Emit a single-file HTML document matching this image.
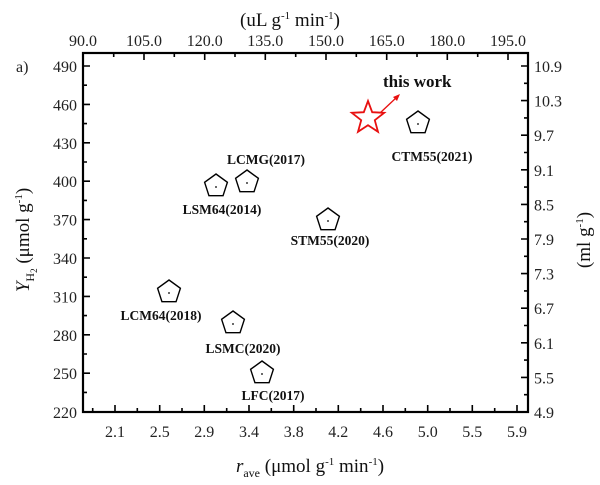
<!DOCTYPE html>
<html><head><meta charset="utf-8"><style>
html,body{margin:0;padding:0;background:#fff;}
svg{display:block;font-family:"Liberation Serif",serif;}
.t{font-size:16px;fill:#222;}
.lb{font-size:13.5px;font-weight:bold;fill:#111;}
</style></head><body>
<svg width="600" height="485" viewBox="0 0 600 485" xmlns="http://www.w3.org/2000/svg">
<defs>
<polygon id="pg" points="0,-12 11.4,-3.7 7.05,9.7 -7.05,9.7 -11.4,-3.7" fill="none" stroke="#000" stroke-width="1.4"/>
</defs>
<rect x="83" y="53" width="445" height="359" fill="none" stroke="#000" stroke-width="2.2"/>
<g stroke="#000" stroke-width="1.6">
<path d="M83,66h7M83,104.4h7M83,142.8h7M83,181.2h7M83,219.6h7M83,258h7M83,296.4h7M83,334.8h7M83,373.2h7"/>
<path d="M83,85.2h4M83,123.6h4M83,162h4M83,200.4h4M83,238.8h4M83,277.2h4M83,315.6h4M83,354h4M83,392.4h4"/>
<path d="M528,66h-7M528,100.6h-7M528,135.2h-7M528,169.8h-7M528,204.4h-7M528,239h-7M528,273.6h-7M528,308.2h-7M528,342.8h-7M528,377.4h-7"/>
<path d="M528,83.3h-4M528,117.9h-4M528,152.5h-4M528,187.1h-4M528,221.7h-4M528,256.3h-4M528,290.9h-4M528,325.5h-4M528,360.1h-4M528,394.7h-4"/>
<path d="M115,412v-7M159.7,412v-7M204.3,412v-7M249,412v-7M293.7,412v-7M338.3,412v-7M383,412v-7M427.7,412v-7M472.3,412v-7M517,412v-7"/>
<path d="M92.7,412v-4M137.3,412v-4M182,412v-4M226.7,412v-4M271.3,412v-4M316,412v-4M360.7,412v-4M405.3,412v-4M450,412v-4M494.7,412v-4"/>
<path d="M144,53v7M204.7,53v7M265.3,53v7M326,53v7M386.7,53v7M447.3,53v7M508,53v7"/>
<path d="M113.7,53v4M174.3,53v4M235,53v4M295.7,53v4M356.3,53v4M417,53v4M477.7,53v4"/>
</g>
<g class="t" text-anchor="end">
<text x="77" y="72">490</text><text x="77" y="110.4">460</text><text x="77" y="148.8">430</text><text x="77" y="187.2">400</text><text x="77" y="225.6">370</text><text x="77" y="264">340</text><text x="77" y="302.4">310</text><text x="77" y="340.8">280</text><text x="77" y="379.2">250</text><text x="77" y="418">220</text>
</g>
<text class="t" x="16" y="72">a)</text>
<g class="t">
<text x="534" y="72">10.9</text><text x="534" y="106.6">10.3</text><text x="534" y="141.2">9.7</text><text x="534" y="175.8">9.1</text><text x="534" y="210.4">8.5</text><text x="534" y="245">7.9</text><text x="534" y="279.6">7.3</text><text x="534" y="314.2">6.7</text><text x="534" y="348.8">6.1</text><text x="534" y="383.4">5.5</text><text x="534" y="418">4.9</text>
</g>
<g class="t" text-anchor="middle">
<text x="115" y="437">2.1</text><text x="159.7" y="437">2.5</text><text x="204.3" y="437">2.9</text><text x="249" y="437">3.4</text><text x="293.7" y="437">3.8</text><text x="338.3" y="437">4.2</text><text x="383" y="437">4.6</text><text x="427.7" y="437">5.0</text><text x="472.3" y="437">5.5</text><text x="517" y="437">5.9</text>
<text x="83" y="46">90.0</text><text x="144" y="46">105.0</text><text x="204.7" y="46">120.0</text><text x="265.3" y="46">135.0</text><text x="326" y="46">150.0</text><text x="386.7" y="46">165.0</text><text x="447.3" y="46">180.0</text><text x="508" y="46">195.0</text>
</g>
<text x="290" y="26" font-size="19" text-anchor="middle" fill="#111">(uL g<tspan font-size="11" dy="-7">-1</tspan><tspan dy="7"> min</tspan><tspan font-size="11" dy="-7">-1</tspan><tspan dy="7">)</tspan></text>
<text x="310" y="472" font-size="19" text-anchor="middle" fill="#111"><tspan font-style="italic">r</tspan><tspan font-size="12" dy="5">ave</tspan><tspan dy="-5"> (μmol g</tspan><tspan font-size="11" dy="-7">-1</tspan><tspan dy="7"> min</tspan><tspan font-size="11" dy="-7">-1</tspan><tspan dy="7">)</tspan></text>
<text transform="translate(29,240) rotate(-90)" font-size="19" text-anchor="middle" fill="#111"><tspan font-style="italic">Y</tspan><tspan font-size="12" dy="5">H</tspan><tspan font-size="9" dy="3">2</tspan><tspan dy="-8"> (μmol g</tspan><tspan font-size="11" dy="-7">-1</tspan><tspan dy="7">)</tspan></text>
<text transform="translate(590,240) rotate(-90)" font-size="19" text-anchor="middle" fill="#111">(ml g<tspan font-size="11" dy="-7">-1</tspan><tspan dy="7">)</tspan></text>
<g>
<use href="#pg" x="418" y="123"/><use href="#pg" x="247" y="182"/><use href="#pg" x="216" y="186"/><use href="#pg" x="328" y="220"/><use href="#pg" x="169" y="292"/><use href="#pg" x="233" y="323"/><use href="#pg" x="262" y="373"/>
</g>
<g fill="#000">
<circle cx="418" cy="124" r="0.9"/><circle cx="247" cy="183" r="0.9"/><circle cx="216" cy="187" r="0.9"/><circle cx="328" cy="221" r="0.9"/><circle cx="169" cy="293" r="0.9"/><circle cx="233" cy="324" r="0.9"/><circle cx="262" cy="374" r="0.9"/>
</g>
<polygon points="368,101 372.2,112.2 384.2,112.8 374.8,120.2 378,131.8 368,125.2 358,131.8 361.2,120.2 351.8,112.8 363.8,112.2" fill="none" stroke="#e81010" stroke-width="1.8"/>
<line x1="380" y1="113" x2="397" y2="97" stroke="#e81010" stroke-width="1.3"/>
<polygon points="400,94 393,97 397,101" fill="#e81010"/>
<text x="383" y="87" font-size="17" font-weight="bold" fill="#111">this work</text>
<g class="lb" text-anchor="middle">
<text x="432" y="161">CTM55(2021)</text>
<text x="266" y="164">LCMG(2017)</text>
<text x="222" y="214">LSM64(2014)</text>
<text x="330" y="245">STM55(2020)</text>
<text x="161" y="320">LCM64(2018)</text>
<text x="243" y="353">LSMC(2020)</text>
<text x="273" y="400">LFC(2017)</text>
</g>
</svg>
</body></html>
